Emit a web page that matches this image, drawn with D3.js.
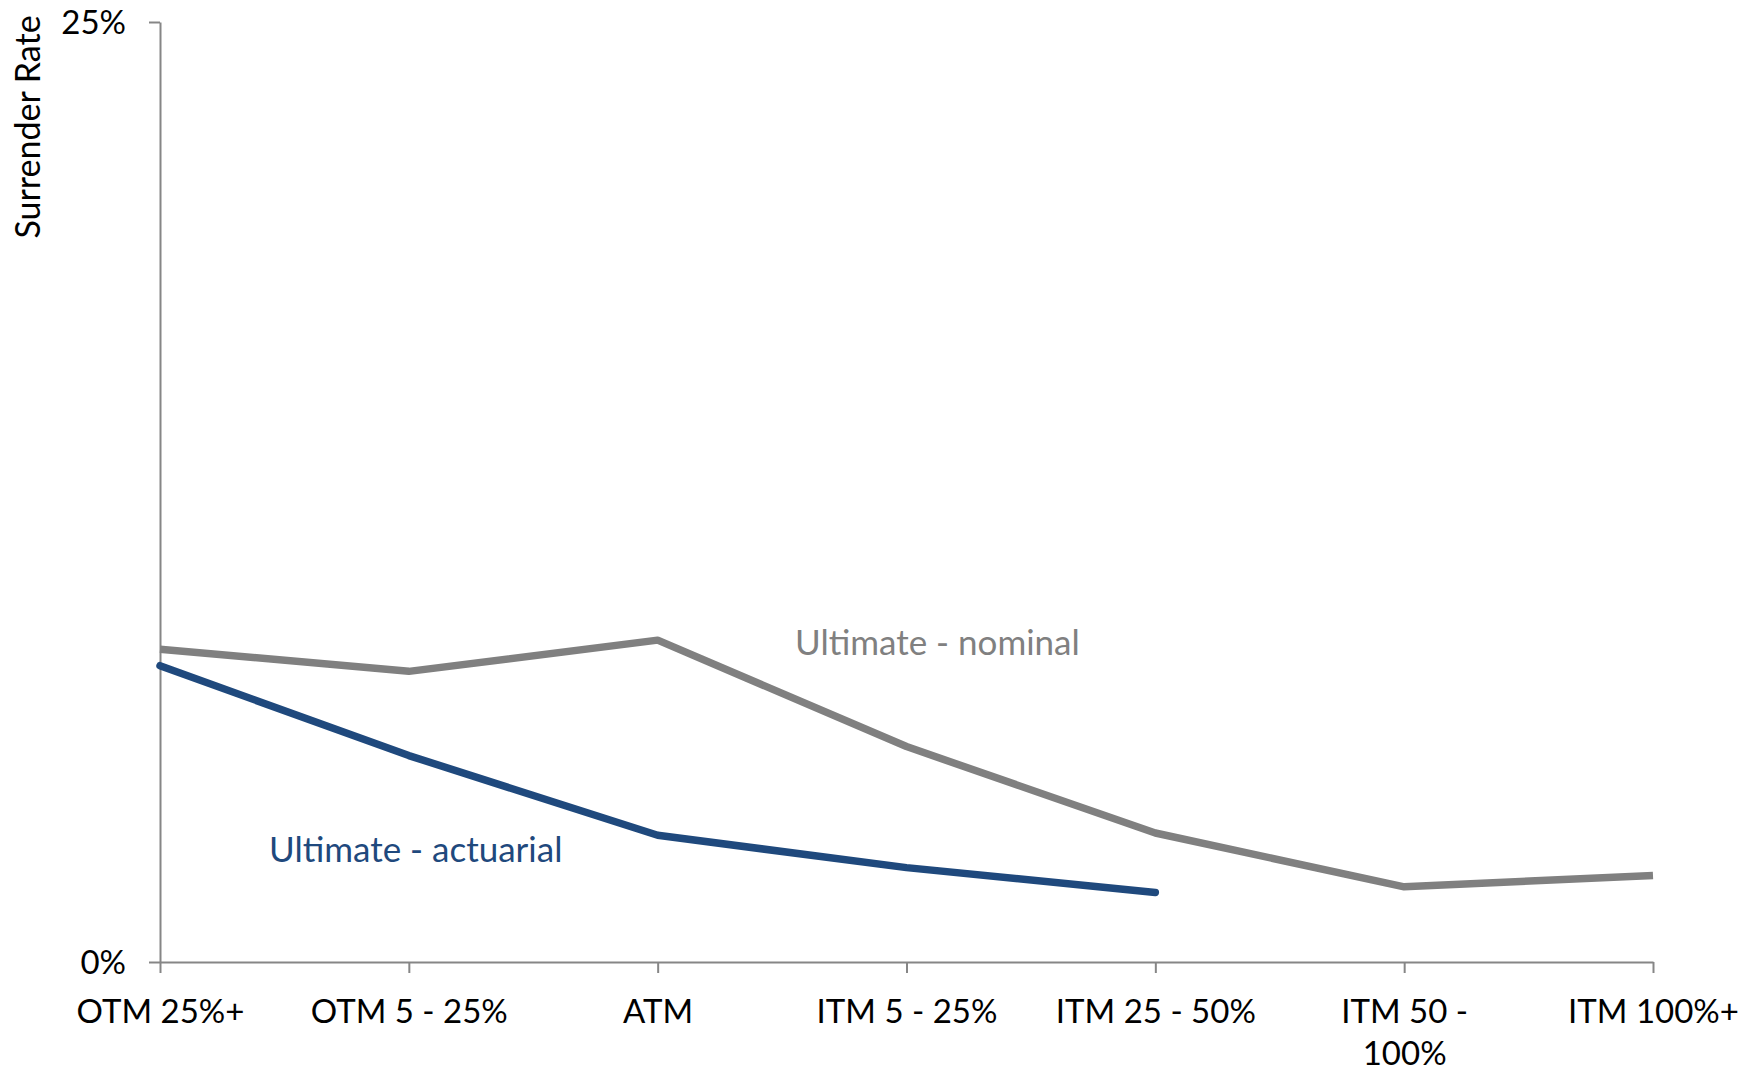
<!DOCTYPE html>
<html lang="en">
<head>
  <meta charset="UTF-8">
  <title>Surrender Rate by Moneyness</title>
  <script src="https://cdn.jsdelivr.net/npm/d3@7"></script>
  <style>
    body {
      margin: 0;
      background-color: #fff;
      font-family: Lato, "Open Sans", sans-serif;
    }
    .axis path, .axis line {
      stroke: #868686;
      stroke-width: 2px;
    }
    .axis text {
      fill: #000;
      font-size: 33px;
      font-family: Lato, "Open Sans", sans-serif;
    }
  </style>
</head>
<body>
  <div id="chart"></div>
  <script>
    // Categories along the x axis
    const categories = ["OTM 25%+", "OTM 5 - 25%", "ATM", "ITM 5 - 25%", "ITM 25 - 50%", "ITM 50 - 100%", "ITM 100%+"];
    // Tick labels as Excel wrapped them
    const tickLabels = [["OTM 25%+"], ["OTM 5 - 25%"], ["ATM"], ["ITM 5 - 25%"], ["ITM 25 - 50%"], ["ITM 50 -", "100%"], ["ITM 100%+"]];
    // Surrender rates in %
    const nominal = [8.32, 7.73, 8.56, 5.73, 3.43, 2.00, 2.30];
    const actuarial = [7.88, 5.49, 3.37, 2.51, 1.85];
    const yTicks = [0, 25];

    const W = 1758, H = 1072;
    const margin = { top: 22, right: 105, bottom: 110, left: 160 };

    const svg = d3.select("#chart")
      .append("svg")
      .attr("width", W)
      .attr("height", H);

    const x = d3.scalePoint()
      .domain(categories)
      .range([margin.left, W - margin.right]);

    const y = d3.scaleLinear()
      .domain([0, 25])
      .range([H - margin.bottom, margin.top]);

    // x axis
    const xAxis = svg.append("g")
      .attr("class", "axis")
      .attr("transform", `translate(0,${y(0)})`)
      .call(d3.axisBottom(x).tickSize(11).tickSizeOuter(0).tickFormat(""));

    xAxis.selectAll(".tick").each(function (d, i) {
      const t = d3.select(this).append("text")
        .attr("text-anchor", "middle")
        .attr("y", 61);
      tickLabels[i].forEach((line, j) => {
        t.append("tspan")
          .attr("x", 0)
          .attr("dy", j === 0 ? 0 : 42)
          .text(line);
      });
    });

    // y axis
    const yAxis = svg.append("g")
      .attr("class", "axis")
      .attr("transform", `translate(${margin.left},0)`)
      .call(d3.axisLeft(y).tickValues(yTicks).tickSize(11).tickSizeOuter(0).tickFormat(d => d + "%"));

    yAxis.selectAll(".tick text")
      .attr("x", -34)
      .attr("dy", "0.36em");

    svg.append("text")
      .attr("transform", `translate(40,127) rotate(-90)`)
      .attr("text-anchor", "middle")
      .style("font-size", "34px")
      .text("Surrender Rate");

    const line = d3.line()
      .x((d, i) => x(categories[i]))
      .y(d => y(d));

    svg.append("path")
      .datum(nominal)
      .attr("fill", "none")
      .attr("stroke", "#808080")
      .attr("stroke-width", 7.5)
      .attr("stroke-linejoin", "round")
      .attr("d", line);

    svg.append("path")
      .datum(actuarial)
      .attr("fill", "none")
      .attr("stroke", "#1F497D")
      .attr("stroke-width", 7.5)
      .attr("stroke-linejoin", "round")
      .attr("stroke-linecap", "round")
      .attr("d", line);

    // series labels
    svg.append("text")
      .attr("x", 795)
      .attr("y", 655)
      .attr("fill", "#808080")
      .style("font-size", "35px")
      .text("Ultimate - nominal");

    svg.append("text")
      .attr("x", 269)
      .attr("y", 862)
      .attr("fill", "#1F497D")
      .style("font-size", "35px")
      .text("Ultimate - actuarial");
  </script>
</body>
</html>
